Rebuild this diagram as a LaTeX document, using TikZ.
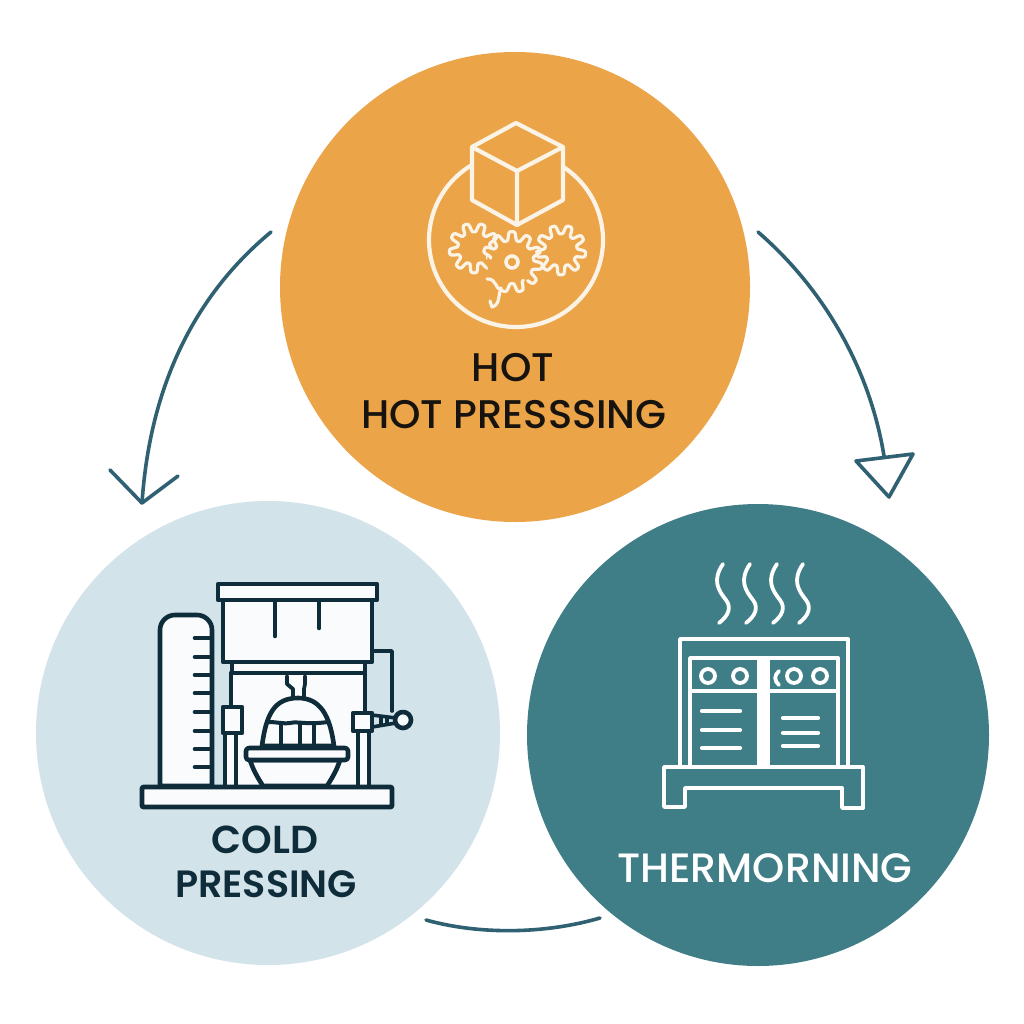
\documentclass[tikz,border=0pt]{standalone}
\usepackage{fontspec}
\setmainfont{Poppins Medium}
\newfontfamily\semib{Poppins SemiBold}
\definecolor{orangec}{HTML}{EBA448}
\definecolor{bluec}{HTML}{D3E3EA}
\definecolor{tealc}{HTML}{3F7E87}
\definecolor{inkc}{HTML}{0F2C3B}
\definecolor{hotink}{HTML}{17140F}
\definecolor{arrowc}{HTML}{2F6173}
\definecolor{paperc}{HTML}{FAFBFC}
\definecolor{creamc}{HTML}{FBF3E6}
\tikzset{
 disc/.style={circle,inner sep=0pt,minimum size=#1},
 conn/.style={draw=arrowc,line width=3.6pt,line cap=round,line join=round},
 coldl/.style={draw=inkc,line width=4.6pt,line join=round,line cap=round},
 hotl/.style={draw=creamc,line width=4.2pt,line join=round,line cap=round},
 therml/.style={draw=white,line width=3.8pt,line join=round,line cap=round},
 label/.style={inner sep=0pt,font=\fontsize{#1}{#1}\selectfont},
 labelb/.style={inner sep=0pt,font=\semib\fontsize{#1}{#1}\selectfont},
}
\begin{document}
\begin{tikzpicture}[x=1pt,y=-1pt]
\useasboundingbox (0,0) rectangle (1024,1024);
\fill[white] (0,0) rectangle (1024,1024);
% discs
\node[disc=470pt,fill=orangec] (hot) at (515,287) {};
\node[disc=464pt,fill=bluec] (cold) at (268,733) {};
\node[disc=462pt,fill=tealc] (therm) at (758,735) {};
% connectors
\coordinate (a1) at (271,232); \coordinate (a1e) at (142,503);
\coordinate (a1l) at (110,470); \coordinate (a1r) at (178,476);
\draw[conn] (a1) .. controls (195,295) and (150,385) .. (a1e);
\draw[conn] (a1l) -- (a1e) -- (a1r);
\coordinate (a2) at (758,232); \coordinate (a2e) at (884,456);
\coordinate (a2l) at (856,461); \coordinate (a2r) at (913,454); \coordinate (a2t) at (889,497);
\draw[conn] (a2) .. controls (825,290) and (870,370) .. (a2e);
\draw[conn] (a2l) -- (a2r) -- (a2t) -- cycle;
\coordinate (a3) at (600,918); \coordinate (a3e) at (426,920);
\draw[conn] (a3) .. controls (545,934) and (480,935) .. (a3e);
% hot icon
\draw[hotl] (516,240) circle (87);
\draw[hotl,fill=orangec] (516,123) -- (563,147) -- (563,200) -- (517,225) -- (472,200) -- (472,147) -- cycle;
\draw[hotl] (472,147) -- (517,171) -- (563,147) (517,171) -- (517,225);
\begin{scope}[hotl,line width=3.2pt]
\draw plot[smooth,samples=140,domain=0:360] ({474+(20.5+4.5*tanh(2.2*sin(9*\x)))*cos(\x)},{248+(20.5+4.5*tanh(2.2*sin(9*\x)))*sin(\x)});
\draw plot[smooth,samples=140,domain=0:360] ({561+(20.5+4.5*tanh(2.2*sin(9*\x)))*cos(\x)},{250+(20.5+4.5*tanh(2.2*sin(9*\x)))*sin(\x)});
\draw[fill=orangec,draw=none] (512,262) circle (25);
\draw plot[smooth,samples=90,domain=-170:50] ({512+(26+4.5*tanh(2.2*sin(11*\x)))*cos(\x)},{262+(26+4.5*tanh(2.2*sin(11*\x)))*sin(\x)});
\draw plot[smooth,samples=30,domain=58:112] ({512+(26+4.5*tanh(2.2*sin(11*\x)))*cos(\x)},{262+(26+4.5*tanh(2.2*sin(11*\x)))*sin(\x)});
\draw (487,279) .. controls (497,278) and (496,292) .. (501,288) .. controls (498,296) and (500,305) .. (492,307) .. controls (491,305) and (491,303) .. (490,301);
\draw[line width=3.6pt] (512,262) circle (6);
\end{scope}
\node[label=40,text=hotink] (t1) at (513,368) {HOT};
\node[label=40,text=hotink] (t2) at (514,415) {HOT PRESSSING};
% cold icon
\draw[coldl,fill=paperc] (160,786) -- (160,630) arc (180:270:15) -- (197,615) arc (270:360:15) -- (212,786) -- cycle;
\foreach \y in {638,657,675,693,712,731,749,767} \draw[coldl] (195,\y) -- (210,\y);
\fill[paperc] (231,673) rectangle (365,786);
\fill[paperc] (225,733) rectangle (236,786);
\fill[paperc] (358,731) rectangle (369,786);
\draw[coldl] (225,733) -- (225,786) (236,733) -- (236,786) (231,673) -- (231,707);
\draw[coldl] (358,731) -- (358,786) (369,731) -- (369,786) (365,673) -- (365,713);
\draw[coldl,fill=paperc] (223,707) rectangle (242,733);
\draw[coldl,fill=paperc] (353,713) rectangle (372,731);
\draw[coldl,fill=paperc] (232,662) rectangle (365,673);
\draw[coldl,fill=paperc] (223,600) rectangle (372,662);
\draw[coldl,fill=paperc] (218,584) rectangle (377,600);
\draw[coldl] (275,601) -- (275,636) (319,601) -- (319,628);
\draw[coldl,line width=3.6pt] (372,651) -- (392,651) -- (392,711);
\draw[coldl,line width=3.6pt] (372,715) -- (396,718) (372,727) -- (396,723) (381,717) -- (381,725) (387,718) -- (387,724);
\draw[coldl,fill=paperc] (403,720) circle (8);
\draw[coldl,line width=3.8pt,fill=paperc] (287,676) -- (287,684) -- (293,689) -- (293,698) -- (304,698) -- (304,689) -- (305,684) -- (305,676);
\draw[coldl,fill=paperc] (262,746) .. controls (266,715) and (274,698) .. (298,698) .. controls (320,698) and (330,715) .. (334,746) -- cycle;
\draw[coldl,line width=4pt] (268,722) .. controls (278,722) and (282,724) .. (290,723) .. controls (298,721) and (305,725) .. (328,722);
\draw[coldl,line width=4pt] (281,724) -- (281,746) (300,724) -- (300,746) (314,724) -- (314,746);
\draw[coldl,fill=paperc] (250,760) .. controls (253,770) and (258,778) .. (263,786) -- (327,786) .. controls (332,778) and (337,770) .. (340,760) -- cycle;
\draw[coldl,fill=paperc,rounded corners=3pt] (246,748) rectangle (348,760);
\draw[coldl,fill=paperc,rounded corners=1pt] (142,787) rectangle (392,807);
\node[labelb=39,text=inkc] (t3) at (265,840) {COLD};
\node[labelb=38,text=inkc] (t4) at (266,884) {PRESSING};
% thermo icon
\begin{scope}
\foreach \d in {0,27,54,80}
 \draw[therml] ({723+\d},564) .. controls ({712+\d},580) and ({718+\d},590) .. ({726+\d},600) .. controls ({732+\d},608) and ({728+\d},616) .. ({719+\d},623);
\draw[therml] (664,767) -- (863,767) -- (863,808) -- (842,808) -- (842,788) -- (685,788) -- (685,807) -- (664,807) -- cycle;
\draw[therml] (680,767) -- (680,639) -- (848,639) -- (848,767);
\draw[therml] (690,767) -- (690,658) -- (838,658) -- (838,767);
\fill[white] (757,658) rectangle (770,767);
\fill[white] (690,688.5) rectangle (838,693);
\foreach \x in {708,740,794,820} \draw[therml] (\x,676) circle (7);
\draw[therml] (779,671) .. controls (774,675) and (774,681) .. (779,685);
\foreach \y in {711,730,748} \draw[therml,line width=4.2pt] (702,\y) -- (740,\y);
\foreach \y in {718,733,746} \draw[therml,line width=4.2pt] (783,\y) -- (818,\y);
\end{scope}
\node[label=41,text=white] (t5) at (765,868) {THERMORNING};
\end{tikzpicture}
\end{document}
